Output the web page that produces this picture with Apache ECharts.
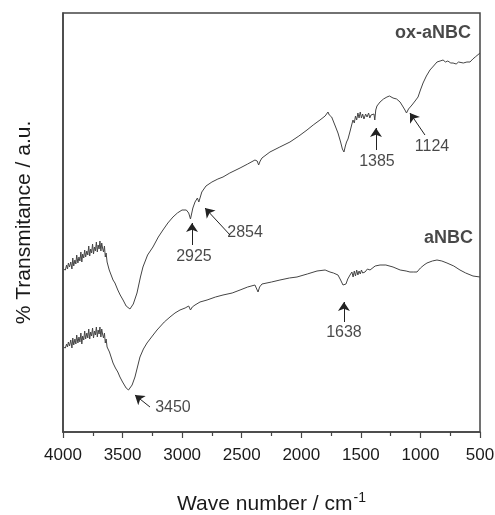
<!DOCTYPE html>
<html>
<head>
<meta charset="utf-8">
<script src="https://cdn.jsdelivr.net/npm/echarts@6/dist/echarts.min.js"></script>
<style>
	body { margin: 0; background: #fff; }
	#chart { width: 495px; height: 515px; }
</style>
</head>
<body>
<div id="chart"></div>
<script>
// spectra: [wave number, transmittance a.u.]
var oxANBC = [
	[4000,163],[3990,165],[3980,162],[3970,167],[3962,163],[3955,169],[3945,165],[3935,170],[3925,163],[3918,174],
	[3910,166],[3900,172],[3892,168],[3885,177],[3875,169],[3866,175],[3858,171],[3850,180],[3842,170],[3835,178],
	[3826,174],[3818,182],[3810,175],[3800,181],[3792,177],[3784,186],[3776,176],[3768,183],[3760,179],[3752,188],
	[3744,178],[3736,185],[3728,181],[3720,190],[3712,180],[3705,187],[3697,183],[3690,191],[3682,181],[3675,189],
	[3668,184],[3660,180],[3652,186],[3645,175],[3638,179],[3630,170],[3622,172],[3612,162],[3600,160],
	[3580,152],[3564,149],[3540,142],[3520,137],[3496,132],[3470,126],[3438,123],[3410,128],[3379,139],[3350,155],
	[3329,165],[3290,177],[3245,185],[3200,195],[3161,202],[3120,209],[3077,215],[3040,219],[3001,222],[2965,222],
	[2945,219],[2930,213],[2922,215],[2910,224],[2892,230],[2872,234],[2860,230],[2850,232],[2835,240],[2800,246],
	[2750,250],[2700,253],[2657,255],[2600,259],[2514,264],[2450,268],[2389,272],[2370,271],[2358,267],[2345,271],
	[2330,274],[2263,280],[2180,285],[2095,290],[2020,296],[1952,302],[1900,307],[1843,312],[1800,316],[1785,318],
	[1776,320],[1765,317],[1755,319],[1745,315],[1734,313],[1715,306],[1692,299],[1670,290],[1655,283],[1642,280],
	[1630,286],[1620,290],[1608,293],[1590,301],[1575,308],[1566,312],[1555,309],[1545,316],[1535,312],[1525,319],
	[1515,314],[1505,320],[1495,314],[1485,318],[1474,313],[1460,318],[1448,315],[1435,319],[1425,314],[1415,317],
	[1400,318],[1390,318],[1383,312],[1375,322],[1365,326],[1339,330],[1310,333],[1281,335],[1260,336],[1230,334],
	[1200,333],[1171,330],[1150,326],[1130,322],[1117,319],[1100,323],[1071,327],[1045,331],[1020,335],[1000,342],
	[978,349],[950,356],[920,362],[890,366],[861,370],[835,371],[810,372],[790,370],[770,371],[745,369],
	[726,369],[700,368],[680,370],[668,368],[640,369],[610,370],[584,370],[560,373],[540,375],[525,377],[500,379]
];
var aNBC = [
	[4000,85],[3990,86],[3980,84],[3970,88],[3962,85],[3955,90],[3945,86],[3935,92],[3925,84],[3918,94],
	[3910,87],[3900,93],[3892,88],[3885,97],[3875,89],[3866,95],[3858,90],[3850,99],[3842,88],[3835,96],
	[3826,92],[3818,101],[3810,93],[3800,99],[3792,94],[3784,103],[3776,93],[3768,100],[3760,96],[3752,104],
	[3744,94],[3736,101],[3728,97],[3720,105],[3712,95],[3705,102],[3697,98],[3690,105],[3682,95],[3675,103],
	[3668,98],[3660,94],[3652,99],[3645,89],[3638,93],[3630,85],[3622,86],[3610,80],[3600,78],
	[3580,69],[3560,64],[3540,60],[3522,55],[3500,50],[3470,44],[3450,42],[3420,47],[3396,55],[3375,65],
	[3354,75],[3325,83],[3295,89],[3250,96],[3211,102],[3150,110],[3102,115],[3060,119],[3018,122],[2975,124],
	[2945,126],[2930,122],[2915,125],[2892,127],[2850,130],[2791,132],[2720,135],[2657,137],[2580,139],[2514,142],
	[2450,145],[2389,147],[2375,146],[2363,140],[2350,145],[2330,148],[2250,150],[2179,152],[2100,154],[2036,155],
	[1950,158],[1868,161],[1800,162],[1759,160],[1730,159],[1692,157],[1670,152],[1650,147],[1638,145],[1625,148],
	[1610,153],[1591,157],[1575,160],[1565,155],[1555,161],[1545,156],[1535,162],[1525,157],[1515,161],[1505,158],
	[1495,162],[1485,159],[1465,160],[1445,163],[1423,162],[1380,166],[1339,167],[1290,167],[1230,165],[1170,162],
	[1120,161],[1088,160],[1060,160],[1029,160],[1000,164],[970,167],[945,169],[900,171],[861,172],[820,171],
	[777,169],[720,166],[668,162],[620,159],[559,156],[500,155]
];

// text labels in the plot
var labelText = ['ox-aNBC', 'aNBC', '2925', '2854', '1385', '1124', '1638', '3450'];
var labelX = [894, 765, 2901, 2472, 1365, 903, 1642, 3077];
var labelY = [399, 194, 175, 199, 270, 285, 99, 24];
var labelBold = [true, true, false, false, false, false, false, false];

// arrows: tail -> tip
var arrowFrom = [[2917,187],[2598,197],[1373,282],[962,297],[1642,110],[3270,25]];
var arrowTo = [[2917,209],[2808,224],[1373,304],[1088,319],[1642,130],[3396,37]];

var FONT = '"Liberation Sans", Arial, sans-serif';

var labelData = [];
for (var i = 0; i < labelText.length; i++) {
	labelData.push({
		value: [labelX[i], labelY[i]],
		name: labelText[i],
		label: {
			fontWeight: labelBold[i] ? 'bold' : 'normal',
			fontSize: labelBold[i] ? 18 : 16
		}
	});
}

var arrowData = [];
for (var j = 0; j < arrowFrom.length; j++) {
	arrowData.push({ coords: [arrowFrom[j], arrowTo[j]] });
}

var option = {
	animation: false,
	grid: {
		left: 63, right: 15, top: 13, bottom: 83,
		outerBoundsMode: 'none',
		show: true,
		borderColor: '#444',
		borderWidth: 1.5
	},
	xAxis: {
		type: 'value',
		inverse: true,
		min: 500,
		max: 4000,
		interval: 500,
		name: '{m|Wave number / cm}{s|-1}',
		nameLocation: 'middle',
		nameGap: 59,
		nameTextStyle: {
			rich: {
				m: { fontFamily: FONT, fontSize: 21, color: '#1a1a1a', verticalAlign: 'bottom' },
				s: { fontFamily: FONT, fontSize: 14, color: '#1a1a1a', verticalAlign: 'top', padding: [0, 0, 10, 1] }
			}
		},
		axisLine: { lineStyle: { color: '#444', width: 1.5 } },
		axisTick: { inside: false, length: 6, lineStyle: { color: '#444', width: 1.2 } },
		minorTick: { show: true, splitNumber: 2, length: 4, lineStyle: { color: '#444', width: 1.2 } },
		axisLabel: {
			fontFamily: FONT, fontSize: 17, color: '#1a1a1a', margin: 15,
			formatter: function (v) { return String(v); }
		},
		splitLine: { show: false }
	},
	yAxis: {
		type: 'value',
		min: 0,
		max: 419,
		name: '% Transmitance / a.u.',
		nameLocation: 'middle',
		nameGap: 28,
		nameTextStyle: { fontFamily: FONT, fontSize: 21, color: '#1a1a1a' },
		axisLine: { show: true, lineStyle: { color: '#444', width: 1.5 } },
		axisTick: { show: false },
		axisLabel: { show: false },
		splitLine: { show: false }
	},
	series: [
		{
			name: 'ox-aNBC',
			type: 'line',
			data: oxANBC,
			showSymbol: false,
			lineStyle: { color: '#444', width: 1 }
		},
		{
			name: 'aNBC',
			type: 'line',
			data: aNBC,
			showSymbol: false,
			lineStyle: { color: '#444', width: 1 }
		},
		{
			name: 'labels',
			type: 'scatter',
			data: labelData,
			symbolSize: 0,
			silent: true,
			label: {
				show: true,
				position: 'inside',
				formatter: '{b}',
				fontFamily: FONT,
				color: '#1a1a1a'
			}
		},
		{
			name: 'arrows',
			type: 'lines',
			coordinateSystem: 'cartesian2d',
			silent: true,
			symbol: ['none', 'arrow'],
			symbolSize: 9,
			lineStyle: { color: '#222', width: 1, opacity: 1 },
			data: arrowData
		}
	]
};

var myChart = echarts.init(document.getElementById('chart'));
myChart.setOption(option);
</script>
</body>
</html>
